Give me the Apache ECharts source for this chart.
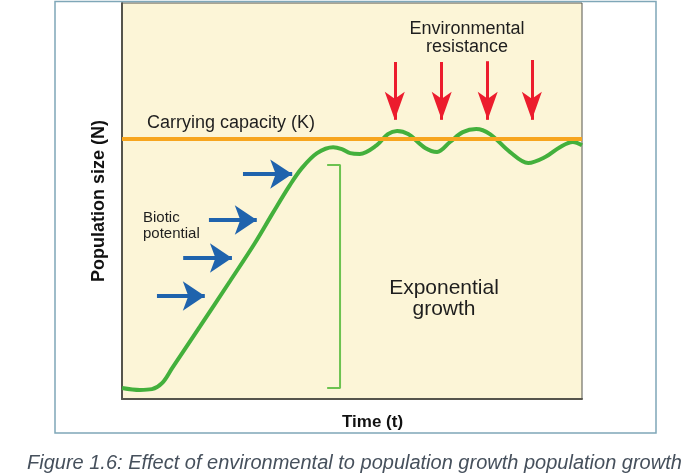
<!DOCTYPE html>
<html>
<head>
<meta charset="utf-8">
<script src="https://cdn.jsdelivr.net/npm/echarts@6/dist/echarts.min.js"></script>
<style>
  html, body { margin: 0; padding: 0; background: #fff; }
  #chart { width: 689px; height: 476px; }
</style>
</head>
<body>
<div id="chart"></div>
<script>
// Logistic growth curve (time 0-100, population 0-100)
const timeVals = [0, 3.9, 6.5, 8.7, 10.9, 17.0, 23.5, 28.9, 32.8, 36.5, 39.1, 42.4, 45.9, 47.8, 49.6, 51.7, 55.4, 57.8, 59.8, 62.2, 65.9, 68.5, 71.3, 74.1, 77.0, 80.0, 84.3, 88.3, 92.0, 95.2, 98.0, 100];
const popVals = [2.8, 2.3, 2.5, 4.0, 7.8, 18.4, 29.8, 39.4, 47.0, 54.0, 58.3, 62.1, 63.6, 63.1, 62.1, 61.9, 64.1, 66.9, 67.7, 66.9, 63.4, 62.4, 64.9, 67.4, 68.2, 66.9, 62.4, 59.6, 61.1, 63.6, 64.9, 64.1];

// Carrying capacity K
const carryingCapacity = 65.6;

// Biotic potential arrows: [xStart, xEnd, y]
const bioticArrows = [
    [26.3, 37.0, 56.8],
    [18.9, 29.3, 45.2],
    [13.3, 23.9, 35.6],
    [7.6, 18.0, 26.0]
];

// Environmental resistance arrows: [x, yStart, yEnd]
const resistanceArrows = [
    [59.3, 85.1, 70.5],
    [69.5, 85.1, 70.5],
    [79.5, 85.3, 70.5],
    [89.1, 85.6, 70.5]
];

// Exponential growth bracket: [xTick, xLine, yTop, yBottom]
const bracket = [44.6, 47.4, 59.1, 2.8];

const chart = echarts.init(document.getElementById('chart'));
const font = '"Liberation Sans", Arial, sans-serif';

const curveData = timeVals.map((t, i) => [t, popVals[i]]);

const bioticLines = bioticArrows.map(a => [{ coord: [a[0], a[2]] }, { coord: [a[1], a[2]] }]);
const resistanceLines = resistanceArrows.map(a => [{ coord: [a[0], a[1]] }, { coord: [a[0], a[2]] }]);

const bracketData = [
    [bracket[0], bracket[2]],
    [bracket[1], bracket[2]],
    [bracket[1], bracket[3]],
    [bracket[0], bracket[3]]
];

const option = {
    animation: false,
    title: {
        text: 'Figure 1.6: Effect of environmental to population growth population growth',
        left: 27,
        top: 453,
        padding: 0,
        textStyle: {
            fontFamily: font,
            fontSize: 20,
            fontStyle: 'italic',
            fontWeight: 'normal',
            color: '#46505c'
        }
    },
    grid: {
        left: 122,
        top: 3,
        width: 460,
        height: 396,
        show: true,
        backgroundColor: '#fcf5d7',
        borderColor: '#55544c',
        borderWidth: 1
    },
    xAxis: {
        type: 'value',
        min: 0,
        max: 100,
        name: 'Time (t)',
        nameLocation: 'middle',
        nameGap: 15,
        nameTextStyle: { fontFamily: font, fontSize: 17, fontWeight: 'bold', color: '#111', padding: [0, 0, 0, 41] },
        axisLine: { show: true, lineStyle: { color: '#55544c', width: 2 } },
        axisTick: { show: false },
        axisLabel: { show: false },
        splitLine: { show: false }
    },
    yAxis: {
        type: 'value',
        min: 0,
        max: 100,
        name: 'Population size (N)',
        nameLocation: 'middle',
        nameGap: 14,
        nameTextStyle: { fontFamily: font, fontSize: 18, fontWeight: 'bold', color: '#111' },
        axisLine: { show: true, lineStyle: { color: '#55544c', width: 2 } },
        axisTick: { show: false },
        axisLabel: { show: false },
        splitLine: { show: false }
    },
    series: [
        {
            type: 'line',
            name: 'Carrying capacity',
            data: [],
            silent: true,
            markLine: {
                silent: true,
                symbol: ['none', 'none'],
                label: { show: false },
                lineStyle: { color: '#f7a51e', width: 4, type: 'solid' },
                data: [{ yAxis: carryingCapacity }]
            }
        },
        {
            type: 'line',
            name: 'Exponential growth',
            data: bracketData,
            showSymbol: false,
            silent: true,
            lineStyle: { color: '#6cc250', width: 2 }
        },
        {
            type: 'line',
            name: 'Population',
            data: curveData,
            smooth: 0.35,
            showSymbol: false,
            silent: true,
            lineStyle: { color: '#43b03c', width: 4 }
        },
        {
            type: 'line',
            name: 'Biotic potential',
            data: [],
            markLine: {
                silent: true,
                symbol: ['none', 'arrow'],
                symbolSize: [22, 22],
                label: { show: false },
                lineStyle: { color: '#1f63ad', width: 4, type: 'solid' },
                data: bioticLines
            }
        },
        {
            type: 'line',
            name: 'Environmental resistance',
            data: [],
            markLine: {
                silent: true,
                symbol: ['none', 'arrow'],
                symbolSize: [15, 28],
                label: { show: false },
                lineStyle: { color: '#ec1c2d', width: 3, type: 'solid' },
                data: resistanceLines
            }
        }
    ],
    graphic: [
        {
            type: 'rect',
            shape: { x: 55, y: 1.5, width: 601, height: 431.5 },
            style: { fill: 'none', stroke: '#7fa7b8', lineWidth: 1.5 },
            z: 100
        },
        {
            type: 'text',
            left: 147,
            top: 114,
            style: { text: 'Carrying capacity (K)', font: '18px ' + font, fill: '#1e1e1e' },
            z: 100
        },
        {
            type: 'text',
            x: 467,
            y: 20,
            style: {
                text: 'Environmental\nresistance',
                font: '18px ' + font,
                fill: '#1e1e1e',
                align: 'center',
                lineHeight: 18
            },
            z: 100
        },
        {
            type: 'text',
            left: 143,
            top: 210,
            style: { text: 'Biotic\npotential', font: '15px ' + font, fill: '#1e1e1e', lineHeight: 16 },
            z: 100
        },
        {
            type: 'text',
            x: 444,
            y: 278,
            style: {
                text: 'Exponential\ngrowth',
                font: '21px ' + font,
                fill: '#1e1e1e',
                align: 'center',
                lineHeight: 21
            },
            z: 100
        }
    ]
};

chart.setOption(option);
</script>
</body>
</html>
